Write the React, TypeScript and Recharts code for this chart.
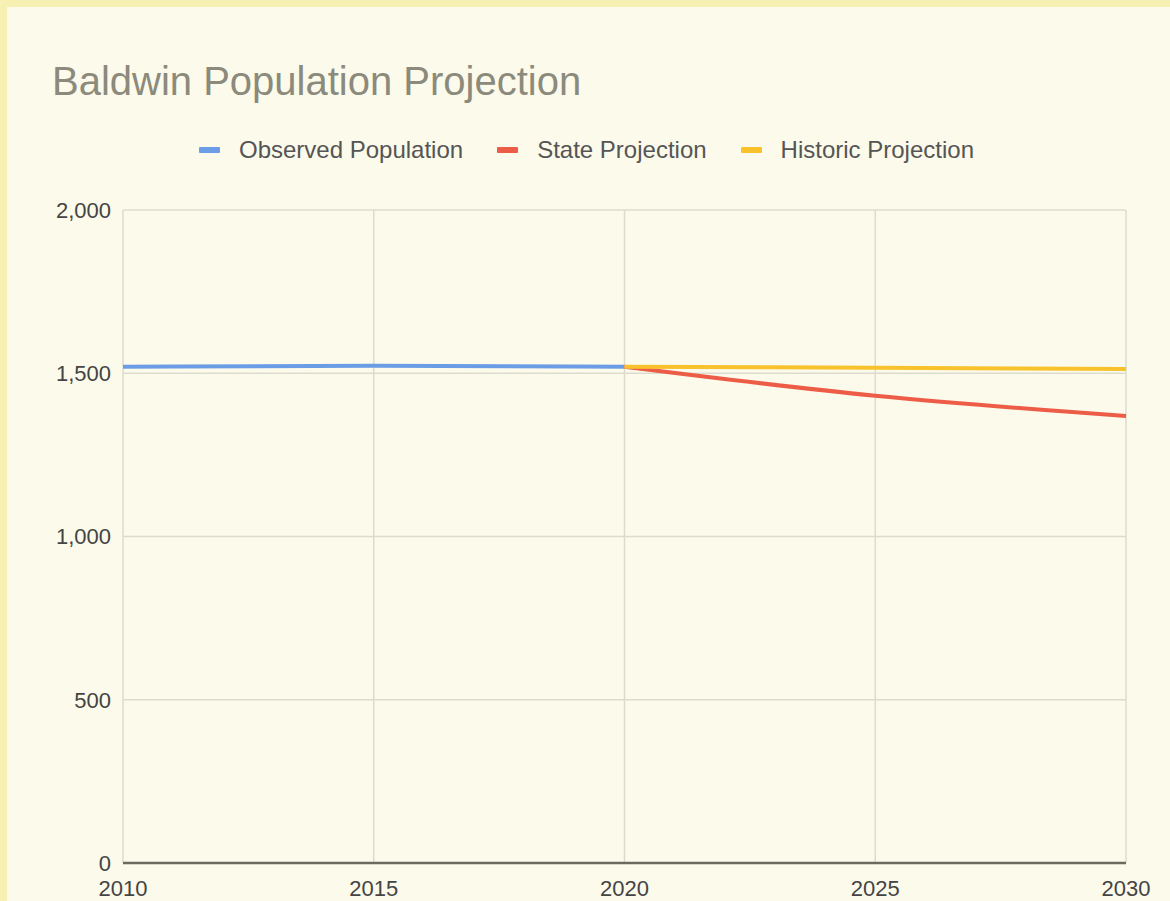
import { LineChart, Line, XAxis, YAxis, CartesianGrid } from 'recharts';

const years = [2010, 2015, 2020, 2025, 2030];
const observed = [1520, 1523, 1520, null, null];
const stateProj = [null, null, 1520, 1431, 1369];
const historicProj = [null, null, 1520, 1517, 1513];
const yTicks = [0, 500, 1000, 1500, 2000];

const series = [
  { key: 'observed', name: 'Observed Population', color: '#6b9de6' },
  { key: 'state', name: 'State Projection', color: '#ec5c47' },
  { key: 'historic', name: 'Historic Projection', color: '#f8c22d' },
];

const data = years.map((year, i) => ({
  year,
  observed: observed[i],
  state: stateProj[i],
  historic: historicProj[i],
}));

const font = '"Liberation Sans", Arial, sans-serif';

export default function App() {
  return (
    <div style={{ position: 'absolute', left: 0, top: 0, width: 1170, height: 901, background: '#f6f0b3', overflow: 'hidden', fontFamily: font }}>
      <div style={{ position: 'absolute', left: 7, top: 7, width: 1163, height: 894, background: '#fcfaea' }} />
      <div style={{ position: 'absolute', left: 52, top: 61, fontSize: 40, lineHeight: '40px', color: '#8b8a7c', whiteSpace: 'nowrap' }}>
        Baldwin Population Projection
      </div>
      <div style={{ position: 'absolute', left: 199, top: 138, display: 'flex', alignItems: 'center', fontSize: 24, lineHeight: '24px', color: '#555', whiteSpace: 'nowrap' }}>
        {series.map((s, i) => (
          <div key={s.key} style={{ display: 'flex', alignItems: 'center', marginRight: i < series.length - 1 ? 34 : 0 }}>
            <div style={{ width: 21, height: 6, background: s.color, marginRight: 19, borderRadius: 1 }} />
            <span>{s.name}</span>
          </div>
        ))}
      </div>
      <div style={{ position: 'absolute', left: 0, top: 0 }}>
        <LineChart width={1170} height={901} data={data} margin={{ top: 210, right: 44, left: 0, bottom: 0 }}>
          <CartesianGrid stroke="#dcdbcd" strokeWidth={1.5} />
          <XAxis
            dataKey="year"
            type="number"
            domain={[2010, 2030]}
            ticks={years}
            tickLine={false}
            tickSize={0}
            tickMargin={17}
            height={38}
            axisLine={{ stroke: '#6a6a60', strokeWidth: 2.5 }}
            tick={{ fill: '#444', fontSize: 22, fontFamily: font }}
            interval={0}
          />
          <YAxis
            type="number"
            domain={[0, 2000]}
            ticks={yTicks}
            width={123}
            tickLine={false}
            axisLine={false}
            tickSize={0}
            tickMargin={12}
            tickFormatter={(v) => v.toLocaleString('en-US')}
            tick={{ fill: '#444', fontSize: 22, fontFamily: font }}
            interval={0}
          />
          {series.map((s) => (
            <Line
              key={s.key}
              dataKey={s.key}
              name={s.name}
              type="monotone"
              stroke={s.color}
              strokeWidth={4}
              dot={false}
              isAnimationActive={false}
            />
          ))}
        </LineChart>
      </div>
    </div>
  );
}
